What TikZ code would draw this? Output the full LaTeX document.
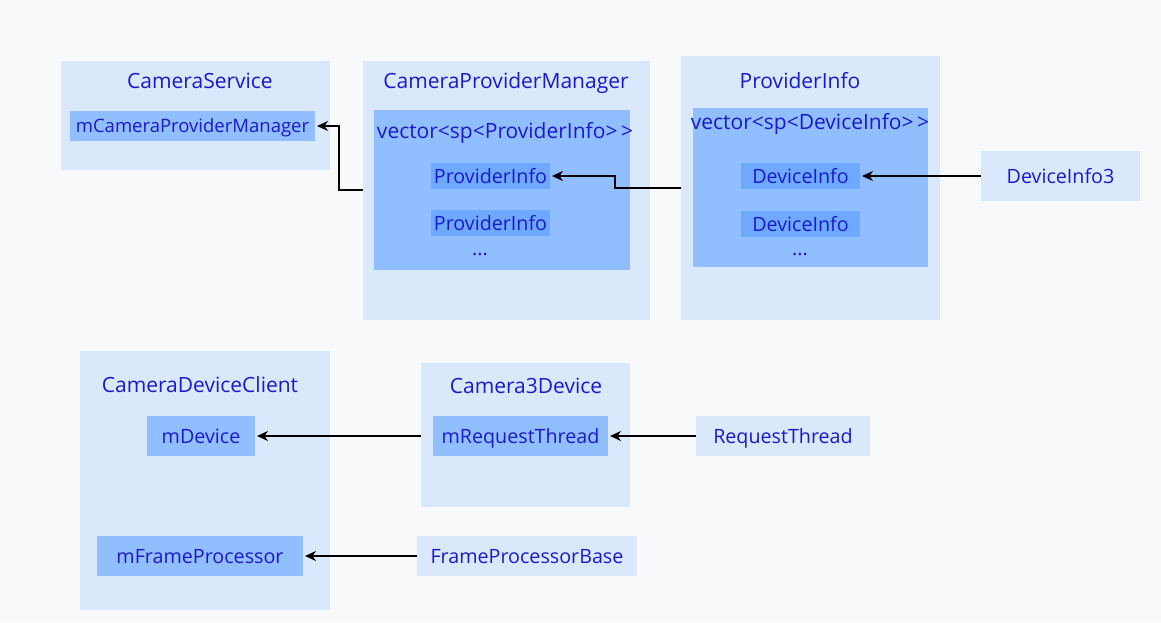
\documentclass[tikz,border=0pt]{standalone}
\usepackage{fontspec}
\setmainfont{Open Sans}
\usetikzlibrary{arrows.meta}
\definecolor{bgc}{RGB}{248,249,250}
\definecolor{outerc}{RGB}{218,232,252}
\definecolor{midc}{RGB}{145,190,255}
\definecolor{darkc}{RGB}{110,168,255}
\definecolor{txtc}{RGB}{25,25,205}
\tikzset{
  box/.style={inner sep=0pt, outer sep=0pt, draw=none},
  outerbox/.style={box, fill=outerc},
  midbox/.style={box, fill=midc},
  darkbox/.style={box, fill=darkc},
  txt/.style={inner sep=0pt, text=txtc, font=\fontsize{19.7}{22}\selectfont, text height=14pt, text depth=0pt},
  ttl/.style={txt, font=\fontsize{21}{24}\selectfont, text height=15pt},
  conn/.style={draw=black, line width=1.8pt, -{Stealth[length=11pt,width=10pt]}},
}
\newcommand{\rbox}[6]{% style, name, x1, y1, x2, y2
  \node[#1, minimum width={(#5-#3)*1pt}, minimum height={(#6-#4)*1pt}] (#2) at ({(#3+#5)/2},{(#4+#6)/2}) {};}
\begin{document}
\begin{tikzpicture}[x=1pt,y=-1pt]
\useasboundingbox (0,0) rectangle (1161,622);
\fill[bgc] (0,0) rectangle (1161,622);

% CameraService
\rbox{outerbox}{cs}{61}{61}{330}{170}
\node[ttl] (csT) at (200,81) {CameraService};
\rbox{midbox}{cpmF}{70}{111}{315}{141}
\node[txt, font=\fontsize{18.5}{22}\selectfont, text height=13pt] (cpmFT) at (cpmF) {mCameraProviderManager};

% CameraProviderManager
\rbox{outerbox}{cpm}{363}{61}{650}{320}
\node[ttl] (cpmT) at (506,81) {CameraProviderManager};
\rbox{midbox}{pvec}{374}{110}{630}{270}
\node[ttl] (pvecT) at (505,131) {vector<sp<ProviderInfo>\,>};
\rbox{darkbox}{pi1}{431}{163}{550}{189}
\node[txt] (pi1T) at (pi1) {ProviderInfo};
\rbox{darkbox}{pi2}{431}{210}{550}{236}
\node[txt] (pi2T) at (pi2) {ProviderInfo};
\node[txt] (pdots) at (480,248) {...};

% ProviderInfo
\rbox{outerbox}{pinf}{681}{56}{940}{320}
\node[ttl] (pinfT) at (800,81) {ProviderInfo};
\rbox{midbox}{dvec}{693}{108}{928}{267}
\node[ttl] (dvecT) at (810,122) {vector<sp<DeviceInfo>\,>};
\rbox{darkbox}{di1}{741}{163}{860}{189}
\node[txt] (di1T) at (di1) {DeviceInfo};
\rbox{darkbox}{di2}{741}{211}{860}{237}
\node[txt] (di2T) at (di2) {DeviceInfo};
\node[txt] (ddots) at (800,248) {...};

% DeviceInfo3
\rbox{outerbox}{di3}{981}{151}{1140}{201}
\node[txt] (di3T) at (di3) {DeviceInfo3};

% CameraDeviceClient
\rbox{outerbox}{cdc}{80}{351}{330}{610}
\node[ttl] (cdcT) at (200,385) {CameraDeviceClient};
\rbox{midbox}{mdev}{147}{416}{255}{456}
\node[txt] (mdevT) at (mdev) {mDevice};
\rbox{midbox}{mfp}{97}{536}{303}{576}
\node[txt] (mfpT) at (mfp) {mFrameProcessor};

% Camera3Device
\rbox{outerbox}{c3d}{421}{363}{630}{507}
\node[ttl] (c3dT) at (526,386) {Camera3Device};
\rbox{midbox}{mrt}{433}{416}{608}{456}
\node[txt] (mrtT) at (mrt) {mRequestThread};

% RequestThread
\rbox{outerbox}{rt}{696}{416}{870}{456}
\node[txt] (rtT) at (rt) {RequestThread};

% FrameProcessorBase
\rbox{outerbox}{fpb}{417}{536}{637}{576}
\node[txt] (fpbT) at (fpb) {FrameProcessorBase};

% connectors
\draw[conn] (cpm.west |- 0,190) -| (339,126) -- ([xshift=2pt]cpmF.east);
\draw[conn] (pinf.west |- 0,188) -| (615,176) -- ([xshift=2pt]pi1.east);
\draw[conn] (di3.west) -- ([xshift=2pt]di1.east);
\draw[conn] (rt.west) -- ([xshift=2pt]mrt.east);
\draw[conn] (c3d.west |- mdev.east) -- ([xshift=2pt]mdev.east);
\draw[conn] (fpb.west) -- ([xshift=2pt]mfp.east);
\end{tikzpicture}
\end{document}
